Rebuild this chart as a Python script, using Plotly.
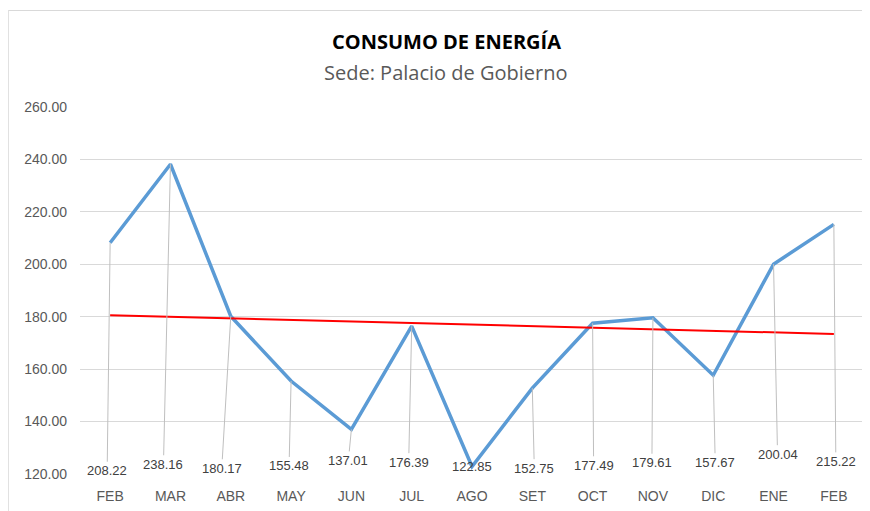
import numpy as np
import plotly.graph_objects as go

months = ["FEB", "MAR", "ABR", "MAY", "JUN", "JUL", "AGO", "SET", "OCT", "NOV", "DIC", "ENE", "FEB"]
consumo = [208.22, 238.16, 180.17, 155.48, 137.01, 176.39, 122.85, 152.75, 177.49, 179.61, 157.67, 200.04, 215.22]
y_ticks = [120, 140, 160, 180, 200, 220, 240, 260]

# label placement offsets (pixels) for the leader-line data labels
label_dx = [-3, -7, -9, -2, -3, -3, 0, 2, 1, -1, 2, 4, 2]
label_dy = [228, 300, 152, 85, 31, 136, 0, 80, 142, 145, 87, 190, 237]

x = list(range(len(months)))
slope, intercept = np.polyfit(x, consumo, 1)
trend = [slope * xi + intercept for xi in x]

fig = go.Figure()
fig.add_trace(go.Scatter(x=x, y=consumo, mode="lines",
                         line=dict(color="#5b9bd5", width=3.5), showlegend=False))
fig.add_trace(go.Scatter(x=[x[0], x[-1]], y=[trend[0], trend[-1]], mode="lines",
                         line=dict(color="#ff0000", width=2), showlegend=False))

annotations = []
for xi, v, dx, dy in zip(x, consumo, label_dx, label_dy):
    annotations.append(dict(
        x=xi, y=v, xref="x", yref="y", text=f"{v:.2f}",
        showarrow=(dy != 0), arrowhead=0, arrowwidth=1, arrowcolor="#bfbfbf",
        ax=dx, ay=dy, standoff=0,
        font=dict(family="Liberation Sans, Arial", size=13, color="#404040"),
    ))

PW, PH = 784, 367
annotations.append(dict(
    text="<b>CONSUMO DE ENERGÍA</b>", x=(438 - 72) / PW, y=1 + (99 - 34) / PH,
    xref="paper", yref="paper",
    showarrow=False, xanchor="center", yanchor="middle",
    font=dict(family="Open Sans, Liberation Sans", size=20, color="#000000")))
annotations.append(dict(
    text="Sede: Palacio de Gobierno", x=(438 - 72) / PW, y=1 + (99 - 64) / PH,
    xref="paper", yref="paper",
    showarrow=False, xanchor="center", yanchor="middle",
    font=dict(family="Open Sans, Liberation Sans", size=20, color="#595959")))

fig.update_layout(
    width=862, height=503,
    margin=dict(l=72, r=6, t=99, b=37),
    paper_bgcolor="#ffffff", plot_bgcolor="#ffffff",
    annotations=annotations,
    shapes=[dict(type="rect", xref="paper", yref="paper",
                 x0=-72.5 / PW + 0.001, x1=1.05, y0=-0.2, y1=1 + 96.5 / PH,
                 line=dict(color="#d9d9d9", width=1), fillcolor="rgba(0,0,0,0)", layer="below")],
    xaxis=dict(
        range=[-0.5, len(months) - 0.5],
        tickmode="array", tickvals=x, ticktext=months,
        showgrid=False, zeroline=False, showline=False, ticks="",
        ticklabelstandoff=12,
        tickfont=dict(family="Liberation Sans, Arial", size=14, color="#595959"),
    ),
    yaxis=dict(
        range=[120, 260], tickmode="array", tickvals=y_ticks,
        ticktext=[f"{t:.2f}" for t in y_ticks],
        showgrid=True, gridcolor="#d9d9d9", gridwidth=1, zeroline=False,
        showline=False, ticks="", ticklabelstandoff=12,
        tickfont=dict(family="Liberation Sans, Arial", size=14, color="#595959"),
    ),
)

fig.write_html("out.html")
